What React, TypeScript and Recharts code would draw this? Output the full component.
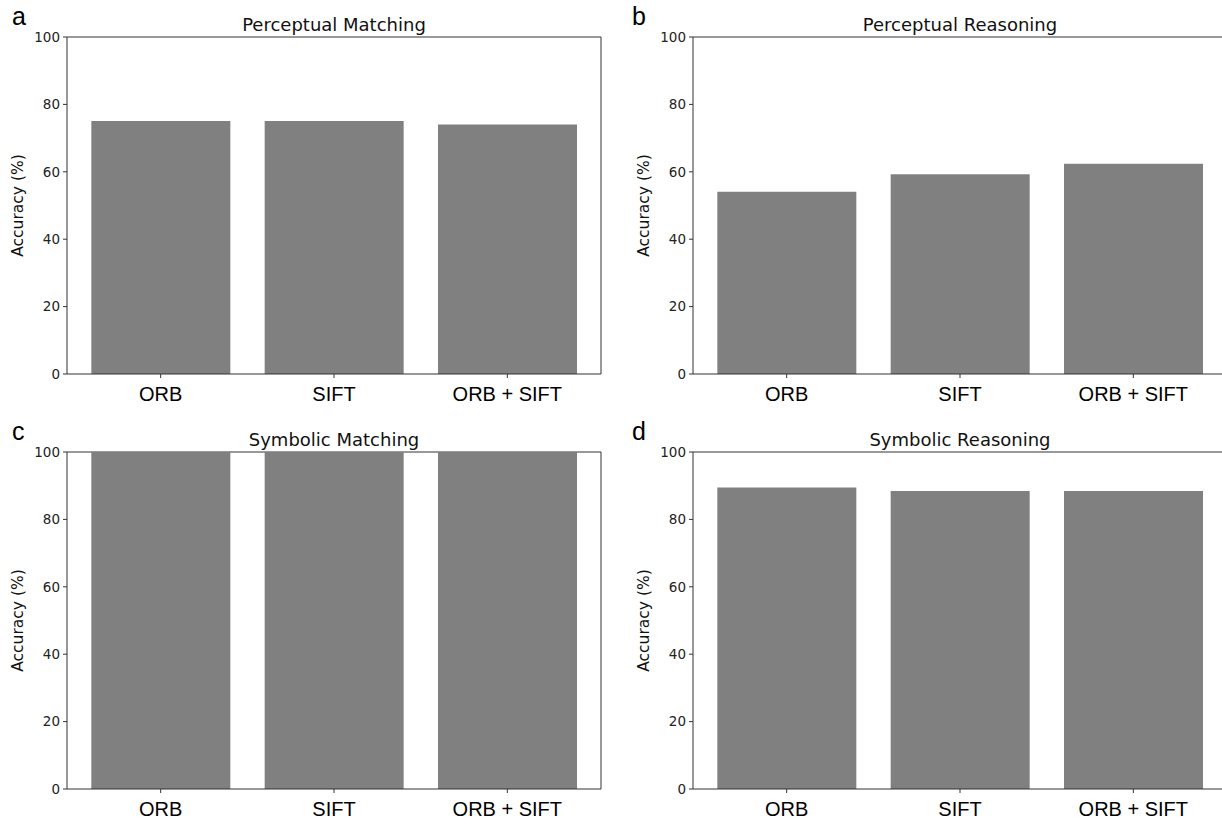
import React from 'react';
import { BarChart, Bar, XAxis, YAxis, CartesianGrid } from 'recharts';

const categories = ['ORB', 'SIFT', 'ORB + SIFT'];
const perceptualMatching = [75.1, 75.1, 74.0];
const perceptualReasoning = [54.1, 59.3, 62.4];
const symbolicMatching = [100, 100, 100];
const symbolicReasoning = [89.5, 88.4, 88.4];
const yTicks = [0, 20, 40, 60, 80, 100];
const panelTitles = ['Perceptual Matching', 'Perceptual Reasoning', 'Symbolic Matching', 'Symbolic Reasoning'];
const panelLetters = ['a', 'b', 'c', 'd'];
const yLabel = 'Accuracy (%)';

const SPINE = '#333';
const DEJAVU = '"DejaVu Sans", sans-serif';
const ARIAL = '"Liberation Sans", Arial, sans-serif';

type PanelProps = { values: number[]; left: number; top: number };

const topEdge = (args: any) => {
  const o = args && args.offset;
  return o ? [o.top] : [];
};
const rightEdge = (args: any) => {
  const o = args && args.offset;
  return o ? [o.left + o.width] : [];
};

function Panel({ values, left, top }: PanelProps) {
  const rows = categories.map((c, i) => ({ name: c, value: values[i] }));
  return (
    <div style={{ position: 'absolute', left, top, width: 620, height: 410 }}>
      <BarChart
        width={620}
        height={410}
        data={rows}
        margin={{ top: 37, right: 19, bottom: 6, left: 17 }}
        barCategoryGap="10%"
      >
        <XAxis
          dataKey="name"
          height={30}
          padding={{ left: 7, right: 7 }}
          tickSize={4}
          tickMargin={9}
          interval={0}
          axisLine={{ stroke: SPINE, strokeWidth: 1 }}
          tickLine={{ stroke: SPINE }}
          tick={{ fontSize: 20, fill: '#000', fontFamily: ARIAL }}
        />
        <YAxis
          domain={[0, 100]}
          ticks={yTicks}
          width={50}
          tickSize={4}
          tickMargin={3}
          interval={0}
          allowDataOverflow
          axisLine={{ stroke: SPINE, strokeWidth: 1 }}
          tickLine={{ stroke: SPINE }}
          tick={{ fontSize: 13.5, fill: '#222', fontFamily: DEJAVU }}
        />
        <Bar dataKey="value" fill="#808080" isAnimationActive={false} />
        <CartesianGrid
          stroke={SPINE}
          strokeWidth={1}
          horizontalCoordinatesGenerator={topEdge}
          verticalCoordinatesGenerator={rightEdge}
        />
      </BarChart>
    </div>
  );
}

const panelPos = [
  { left: 0, top: 0 },
  { left: 626, top: 0 },
  { left: 0, top: 415 },
  { left: 626, top: 415 },
];
const panelValues = [perceptualMatching, perceptualReasoning, symbolicMatching, symbolicReasoning];

export default function App() {
  return (
    <div
      style={{
        position: 'absolute',
        left: 0,
        top: 0,
        width: 1222,
        height: 825,
        overflow: 'hidden',
        background: '#fff',
      }}
    >
      {panelPos.map((p, i) => (
        <Panel key={i} values={panelValues[i]} left={p.left} top={p.top} />
      ))}
      <svg
        width={1222}
        height={825}
        style={{ position: 'absolute', left: 0, top: 0, pointerEvents: 'none' }}
      >
        {panelPos.map((p, i) => {
          const cx = p.left + 67 + 267;
          const cy = p.top + 37 + 168.5;
          return (
            <g key={i}>
              <text
                x={cx}
                y={p.top + 31}
                textAnchor="middle"
                fontFamily={DEJAVU}
                fontSize={18}
                fill="#111"
              >
                {panelTitles[i]}
              </text>
              <text
                x={i % 2 === 0 ? 12 : 632}
                y={p.top + 25}
                fontFamily={ARIAL}
                fontSize={25}
                fill="#000"
              >
                {panelLetters[i]}
              </text>
              <text
                x={p.left + 23}
                y={cy}
                transform={`rotate(-90 ${p.left + 23} ${cy})`}
                textAnchor="middle"
                fontFamily={DEJAVU}
                fontSize={15.5}
                fill="#111"
              >
                {yLabel}
              </text>
            </g>
          );
        })}
      </svg>
    </div>
  );
}
